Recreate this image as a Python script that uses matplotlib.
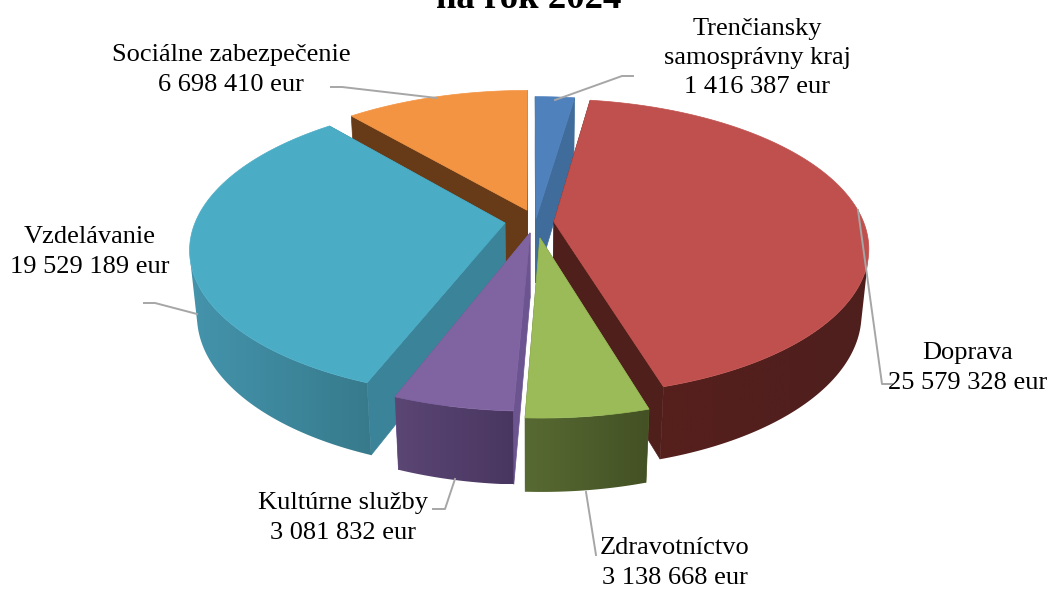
import numpy as np
import matplotlib
matplotlib.use('Agg')
import matplotlib.pyplot as plt
from matplotlib.colors import LinearSegmentedColormap
from matplotlib.patches import Polygon

categories = ['Trenčiansky\nsamosprávny kraj', 'Doprava', 'Zdravotníctvo',
              'Kultúrne služby', 'Vzdelávanie', 'Sociálne zabezpečenie']
values = [1416387, 25579328, 3138668, 3081832, 19529189, 6698410]

top_colors = ['#4f81bd', '#c0504d', '#9bbb59', '#8064a2', '#4bacc6', '#f39443']
wall_colors = ['#3f6c9b', '#4f1f1c', '#55662f', '#6b5490', '#3a8398', '#673b17']
rim_left = ['#3f6c9b', '#561f1c', '#586a33', '#5b4674', '#4494ac', '#673b17']
rim_right = ['#3f6c9b', '#4e1f1e', '#435124', '#493660', '#377a8c', '#673b17']

# how far each slice is pulled out, in units of the pie radius
shift_u = [0.016, 0.074, 0.028, -0.003, -0.084, -0.013]
shift_v = [0.030, 0.007, -0.100, -0.068, 0.000, 0.090]

# back to front
draw_order = [5, 0, 1, 4, 3, 2]

# label centre and leader line, in pixels of the picture
label_pos = [(757, 58), (968, 368), (675, 563), (343, 518), (90, 252), (231, 70)]
leaders = [
    [(555, 100), (622, 76), (633, 76)],
    [(858, 210), (882, 384), (892, 384)],
    [(586, 492), (596, 555)],
    [(455, 479), (445, 509), (433, 509)],
    [(197, 314), (155, 303), (144, 303)],
    [(437, 98), (342, 87), (331, 87)],
]

cx, cy = 531, 223
scale = 310
sin_e, cos_e = 0.465, 0.885
persp = 0.17
dist = cos_e / persp
thick = 0.24


def project(u, v, z=0.0):
    d = 1 + persp * v - z * sin_e / dist
    return cx + scale * u / d, cy - scale * (v * sin_e + z * cos_e) / d


plt.rcParams['font.family'] = ['Liberation Serif', 'DejaVu Serif']
fig = plt.figure(figsize=(10.52, 5.90), dpi=100)
ax = fig.add_axes([0, 0, 1, 1])
ax.axis('off')

edges = np.concatenate([[0], np.cumsum(values)]) / sum(values) * 2 * np.pi

for i in draw_order:
    z_base = 10 + draw_order.index(i)
    a = np.linspace(edges[i], edges[i + 1], max(int(np.degrees(edges[i + 1] - edges[i])) * 2, 8))
    u = shift_u[i] + np.sin(a)
    v = shift_v[i] + np.cos(a)
    ox, oy = shift_u[i], shift_v[i]

    # the two cut faces
    for end in (0, -1):
        corners = [project(ox, oy), project(u[end], v[end]),
                   project(u[end], v[end], -thick), project(ox, oy, -thick)]
        ax.fill(*zip(*corners), color=wall_colors[i], lw=0.5, zorder=z_base)

    # outer rim: only the part facing the viewer, as a left to right gradient
    tx, ty = project(u, v)
    bx, by = project(u, v, -thick)
    area = ((tx[:-1] - tx[1:]) * (by[:-1] - ty[:-1]) + (bx[:-1] - tx[:-1]) * (ty[1:] - ty[:-1]))
    front = np.flatnonzero(area > 0)
    if len(front):
        k0, k1 = front[0], front[-1] + 2
        strip = np.column_stack([np.r_[tx[k0:k1], bx[k0:k1][::-1]], np.r_[ty[k0:k1], by[k0:k1][::-1]]])
        cmap = LinearSegmentedColormap.from_list(f'rim{i}', [rim_left[i], rim_right[i]])
        img = ax.imshow(np.linspace(0, 1, 256)[None, :], cmap=cmap, aspect='auto', interpolation='bilinear',
                        extent=(strip[:, 0].min(), strip[:, 0].max(), strip[:, 1].max(), strip[:, 1].min()),
                        zorder=z_base)
        img.set_clip_path(Polygon(strip, transform=ax.transData))

    # top face
    ox_px, oy_px = project(ox, oy)
    ax.fill(np.r_[ox_px, tx], np.r_[oy_px, ty], color=top_colors[i], lw=0.5, zorder=z_base)

    lx, ly = zip(*leaders[i])
    ax.plot(lx, ly, color='#a6a6a6', lw=1.4, zorder=40, solid_joinstyle='round')
    money = f'{values[i]:,}'.replace(',', ' ')
    ax.text(label_pos[i][0], label_pos[i][1], f'{categories[i]}\n{money} eur', ha='center', va='center',
            fontsize=19, color='black', linespacing=1.42, zorder=50)

ax.text(529, 8, 'na rok 2024', ha='center', va='baseline', fontsize=26.5, fontweight='bold',
        color='black', zorder=50, clip_on=False)

ax.set_xlim(0, 1052)
ax.set_ylim(590, 0)

fig.savefig('out.png', dpi=100, facecolor='white')
